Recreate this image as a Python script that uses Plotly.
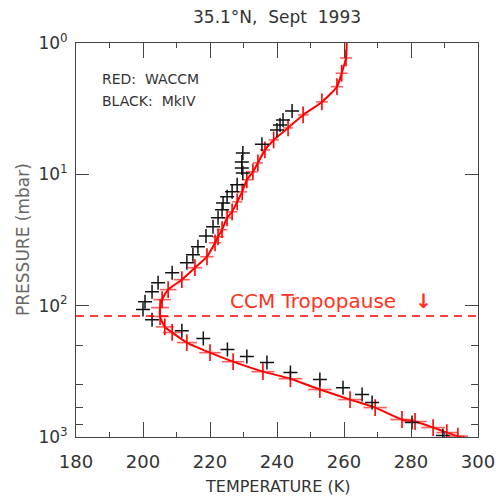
import math
import plotly.graph_objects as go

# WACCM (red) profile: temperature (K), pressure (mbar), error half-width (K)
waccm_P = [1.30, 1.70, 2.15, 2.81, 3.53, 4.43, 5.47, 6.52, 8.18, 9.57, 11.0, 13.6, 16.2,
           19.3, 21.4, 26.4, 29.9, 33.2, 42.4, 51.4, 63.4, 75.5, 89.9, 103.5, 121, 145,
           160, 191, 228, 267, 318, 360, 435, 519, 597, 736, 762, 847, 925, 985]
waccm_T = [260.6, 259.3, 257.9, 253.4, 247.8, 243.3, 239.0, 236.4, 234.3, 232.8, 231.0,
           229.6, 228.1, 226.6, 225.1, 223.6, 222.4, 221.5, 219.1, 215.5, 211.6, 207.5,
           205.7, 205.1, 205.1, 206.5, 208.7, 213.1, 220.0, 226.9, 235.8, 244.0, 252.8,
           261.8, 269.3, 277.3, 281.2, 286.6, 290.7, 294.0]
waccm_err = [1.8, 1.8, 1.8, 1.8, 1.6, 1.5, 1.5, 1.5, 1.5, 1.5, 1.5, 1.5, 1.5, 1.6, 1.6,
             1.6, 1.7, 1.8, 2.0, 2.2, 2.4, 2.5, 2.6, 2.7, 2.7, 2.7, 2.8, 3.0, 3.2, 3.3,
             3.4, 3.5, 3.5, 3.5, 3.5, 3.5, 3.5, 3.5, 3.2, 3.0]
# curve end points (top and surface)
waccm_top = (260.8, 1.0)
waccm_sfc = (296.0, 1000.0)

# MkIV (black) profile
mkiv_P = [3.29, 3.85, 4.21, 4.59, 5.89, 6.87, 8.04, 8.93, 9.75, 12.0, 13.6, 14.8, 16.5,
          18.6, 21.4, 25.1, 29.5, 35.6, 40.9, 47.1, 56.1, 66.8, 78.3, 93.3, 107, 128, 155,
          178, 216, 244, 271, 323, 365, 421, 475, 547, 775, 975]
mkiv_T = [244.5, 241.8, 240.9, 240.0, 235.5, 229.8, 229.5, 229.5, 229.8, 228.1, 226.6,
          225.1, 223.9, 223.6, 222.4, 220.9, 218.8, 216.4, 214.9, 213.1, 208.7, 204.5,
          202.7, 200.6, 200.0, 202.7, 211.6, 218.0, 225.2, 231.0, 237.0, 244.0, 252.8,
          259.7, 265.4, 268.4, 280.3, 289.5]

tropopause_P = 120.0
title_text = "35.1°N,  Sept  1993"
x_ticks = [180, 200, 220, 240, 260, 280, 300]
y_ticks = [1, 10, 100, 1000]
y_ticktext = ["10<sup>0</sup>", "10<sup>1</sup>", "10<sup>2</sup>", "10<sup>3</sup>"]

FONT = "DejaVu Sans"
RED = "#ff0000"
TXT = "#333333"

fig = go.Figure()

line_T = [waccm_top[0]] + waccm_T + [waccm_sfc[0]]
line_P = [waccm_top[1]] + waccm_P + [waccm_sfc[1]]
fig.add_trace(go.Scatter(x=line_T, y=line_P, mode="lines",
                         line=dict(color=RED, width=2, shape="spline", smoothing=0.6),
                         hoverinfo="skip", showlegend=False))
fig.add_trace(go.Scatter(x=waccm_T, y=waccm_P, mode="markers",
                         marker=dict(symbol="line-ns", size=12,
                                     line=dict(color=RED, width=1.6)),
                         error_x=dict(type="data", array=waccm_err, visible=True,
                                      color="rgba(255,40,40,0.75)", thickness=1.6, width=0),
                         showlegend=False))
fig.add_trace(go.Scatter(x=mkiv_T, y=mkiv_P, mode="markers",
                         marker=dict(symbol="cross-thin", size=10,
                                     line=dict(color="#111111", width=1.5)),
                         showlegend=False))

fig.add_hline(y=tropopause_P, line=dict(color=RED, width=1.6, dash="8px,6px"))

fig.add_annotation(x=0.5, y=1, xref="paper", yref="paper", yshift=26,
                   text=title_text, showarrow=False, yanchor="middle",
                   font=dict(family=FONT, size=17, color=TXT))
fig.add_annotation(x=0.5, y=0, xref="paper", yref="paper", yshift=-49,
                   text="TEMPERATURE (K)", showarrow=False, yanchor="middle",
                   font=dict(family=FONT, size=16, color=TXT))
fig.add_annotation(x=0, y=0.5, xref="paper", yref="paper", xshift=-53,
                   text="PRESSURE (mbar)", showarrow=False, textangle=-90,
                   xanchor="center", font=dict(family=FONT, size=17, color="#666666"))
fig.add_annotation(x=0, y=1, xref="paper", yref="paper", xshift=24, yshift=-36,
                   text="RED:  WACCM", showarrow=False, xanchor="left", yanchor="middle",
                   font=dict(family=FONT, size=14, color=TXT))
fig.add_annotation(x=0, y=1, xref="paper", yref="paper", xshift=24, yshift=-58,
                   text="BLACK:  MkIV", showarrow=False, xanchor="left", yanchor="middle",
                   font=dict(family=FONT, size=14, color=TXT))
fig.add_annotation(x=225.5, y=math.log10(tropopause_P), xref="x", yref="y", yshift=15,
                   text="CCM Tropopause   <b>↓</b>", showarrow=False, xanchor="left",
                   yanchor="middle", font=dict(family=FONT, size=20, color="#ff3322"))

fig.update_xaxes(range=[180, 300], tickvals=x_ticks, ticks="inside", ticklen=15,
                 tickcolor="#444", showline=True, linecolor="#444", linewidth=1,
                 mirror="ticks", showgrid=False, zeroline=False, automargin=False,
                 ticklabeloverflow="allow",
                 minor=dict(dtick=10, ticks="inside", ticklen=5, tickcolor="#444",
                            showgrid=False),
                 tickfont=dict(family=FONT, size=18, color=TXT), ticklabelstandoff=8)
fig.update_yaxes(type="log", range=[3, 0], tickvals=y_ticks, ticktext=y_ticktext,
                 ticks="inside", ticklen=13, tickcolor="#444", showline=True,
                 linecolor="#444", linewidth=1, mirror="ticks", showgrid=False,
                 zeroline=False, automargin=False,
                 minor=dict(ticks="inside", ticklen=7, tickcolor="#444", showgrid=False),
                 tickfont=dict(family=FONT, size=17, color=TXT), ticklabelstandoff=4)

fig.update_layout(width=496, height=498, margin=dict(l=76, r=18, t=43, b=61),
                  plot_bgcolor="white", paper_bgcolor="white", showlegend=False)

# remove the default page margin so the figure fills the window exactly
fig.write_html("out.html", config={"displayModeBar": False},
               post_script="document.body.style.margin='0';"
                           "document.body.style.overflow='hidden';")
